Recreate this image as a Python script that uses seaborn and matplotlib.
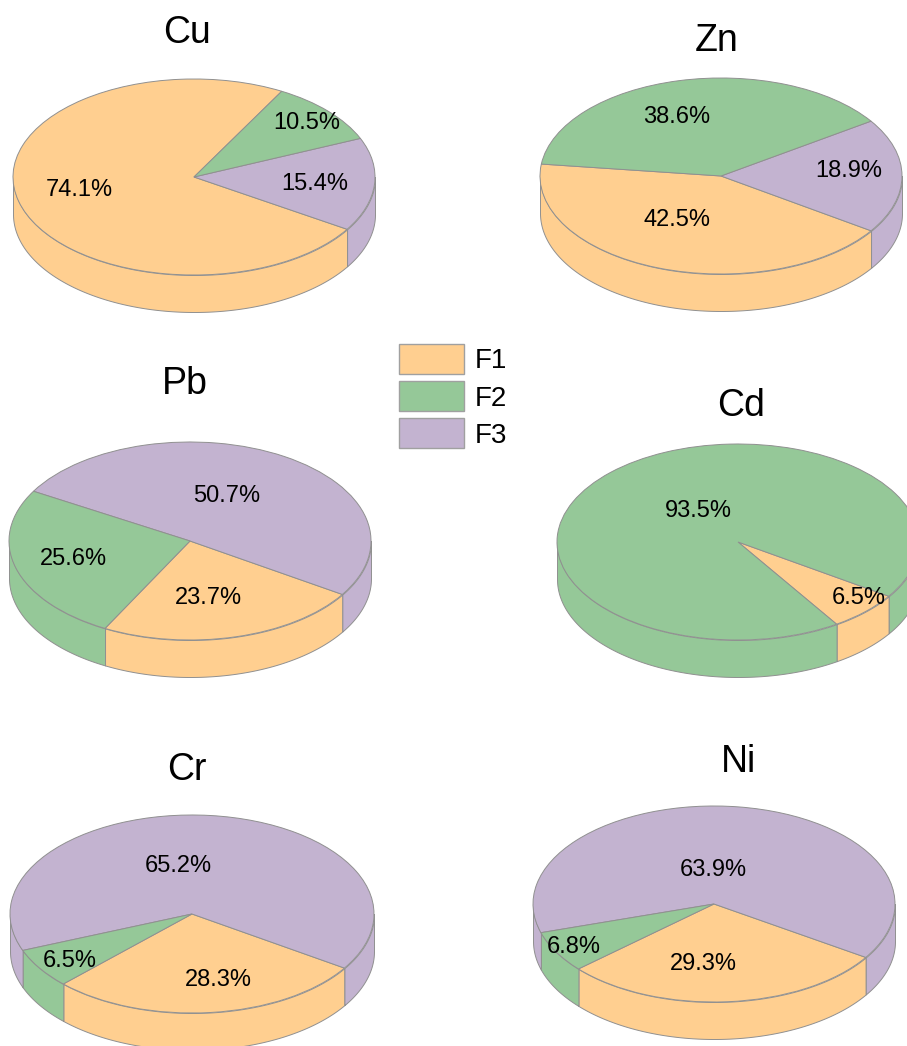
import numpy as np
import matplotlib
matplotlib.use("Agg")
import matplotlib.pyplot as plt
from matplotlib.patches import Patch
import seaborn as sns

sns.set_theme(style="white")
plt.rcParams["font.family"] = ["Liberation Sans", "DejaVu Sans"]

# Metal fractions (%)
metals = ["Cu", "Zn", "Pb", "Cd", "Cr", "Ni"]
fractions = ["F1", "F2", "F3"]
f1 = [74.1, 42.5, 23.7, 6.5, 28.3, 29.3]
f2 = [10.5, 38.6, 25.6, 93.5, 6.5, 6.8]
f3 = [15.4, 18.9, 50.7, 0.0, 65.2, 63.9]

palette = dict(zip(fractions, sns.color_palette(["#FFCF90", "#95C898", "#C3B3D0"])))
EDGE = "#909090"

W, H = 907, 1046
DEPTH = 37

# Panel layout in pixels: centre x, centre y, x radius, y radius, first-slice angle
pies = {
    "Cu": (194, 177, 181, 98, 61),
    "Zn": (721, 176, 181, 98, 173),
    "Pb": (190, 541, 181, 99, 242),
    "Cd": (738, 542, 181, 98, 303),
    "Cr": (192, 914, 182, 99, 225),
    "Ni": (714, 904, 181, 98, 221.5),
}
# Title anchor: centre x, baseline y
title_pos = {
    "Cu": (187, 43), "Zn": (717, 51), "Pb": (185, 394),
    "Cd": (741, 416), "Cr": (186.5, 780), "Ni": (739, 772),
}
label_pos = {
    "Cu": {"F1": (79, 190), "F2": (307, 123), "F3": (315, 184)},
    "Zn": {"F1": (677, 220), "F2": (677, 117), "F3": (849, 171)},
    "Pb": {"F1": (208, 598), "F2": (73, 559), "F3": (227, 496)},
    "Cd": {"F1": (859, 598), "F2": (698, 511)},
    "Cr": {"F1": (218, 980), "F2": (70, 961), "F3": (178, 866)},
    "Ni": {"F1": (703, 964), "F2": (574, 947), "F3": (713, 870)},
}


def rim(ax, start, end, drop, color):
    """Shade the visible lower wall of the disc between two angles (degrees)."""
    lo, hi = max(start, 180), min(end, 360)
    if hi <= lo:
        return
    t = np.radians(np.linspace(lo, hi, 120))
    x, y = np.cos(t), np.sin(t)
    ax.fill_between(x, y, y - drop, facecolor=color, edgecolor=EDGE, linewidth=0.7,
                    clip_on=False, zorder=1)


fig = plt.figure(figsize=(W / 100, H / 100), dpi=100, facecolor="white")

for i, metal in enumerate(metals):
    cx, cy, rx, ry, start = pies[metal]
    ax = fig.add_axes([(cx - rx) / W, 1 - (cy + ry + DEPTH) / H,
                       2 * rx / W, (2 * ry + DEPTH) / H])

    # Slices run counter-clockwise as F1, F3, F2
    order = [name for name, v in (("F1", f1[i]), ("F3", f3[i]), ("F2", f2[i])) if v > 0]
    values = {"F1": f1[i], "F2": f2[i], "F3": f3[i]}
    sizes = [values[n] for n in order]
    colors = [palette[n] for n in order]

    drop = DEPTH / ry
    a = start
    for name, size in zip(order, sizes):
        b = a + size * 3.6
        rim(ax, a, b, drop, palette[name])
        rim(ax, a - 360, b - 360, drop, palette[name])
        rim(ax, a + 360, b + 360, drop, palette[name])
        a = b

    ax.pie(sizes, colors=colors, startangle=start, counterclock=True, radius=1,
           wedgeprops=dict(edgecolor=EDGE, linewidth=0.7, clip_on=False, zorder=2))
    ax.set_aspect("auto")
    ax.set_xlim(-1, 1)
    ax.set_ylim(-1 - drop, 1)
    ax.axis("off")

    tx, ty = title_pos[metal]
    fig.text(tx / W, 1 - ty / H, metal, ha="center", va="baseline", fontsize=27, color="black")
    for name in order:
        px, py = label_pos[metal][name]
        fig.text(px / W, 1 - py / H, f"{values[name]}%", ha="center", va="center",
                 fontsize=17, color="black", zorder=5)

handles = [Patch(facecolor=palette[n], edgecolor="#a0a0a0", linewidth=1.0, label=n) for n in fractions]
fig.legend(handles=handles, loc="upper left", bbox_to_anchor=(399 / W, 1 - 344 / H),
           frameon=False, fontsize=20, labelcolor="black", handlelength=2.34, handleheight=1.28,
           labelspacing=0.25, handletextpad=0.4, borderpad=0, borderaxespad=0)

fig.savefig("out.png", dpi=100, facecolor="white")
